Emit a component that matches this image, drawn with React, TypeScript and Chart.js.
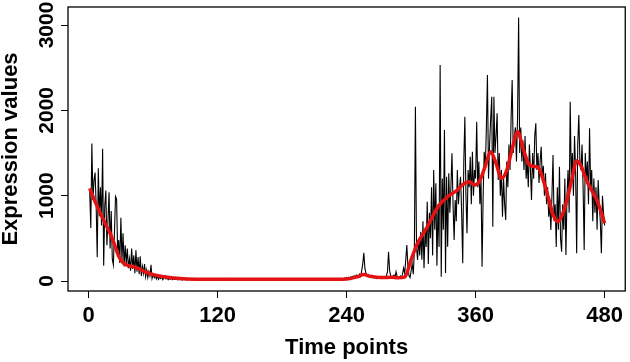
import React, { useEffect, useRef } from "react";
import { Chart, registerables } from "chart.js";

Chart.register(...registerables);

// Black raw series: expression value at time points 1..480
const expressionValues: number[] = [
  1050, 620, 1610, 950, 1180, 1270, 880, 280, 1320, 760, 1100, 650, 1550, 180, 880, 1060, 420, 720, 1040, 380,
  820, 260, 190, 560, 990, 960, 320, 480, 210, 740, 240, 560, 170, 420, 200, 380, 150, 260, 120, 380,
  140, 300, 90, 360, 110, 280, 80, 290, 60, 170, 90, 200, 50, 130, 40, 110, 60, 190, 30, 80,
  40, 70, 25, 60, 20, 45, 30, 55, 15, 35, 60, 25, 40, 15, 30, 20, 35, 15, 25, 20,
  18, 25, 12, 30, 15, 22, 10, 28, 16, 20, 12, 26, 14, 19, 24, 11, 17, 29, 13, 21,
  15, 23, 10, 18, 27, 12, 20, 14, 25, 16, 11, 22, 18, 13, 26, 15, 19, 12, 24, 17,
  14, 21, 10, 19, 25, 13, 17, 22, 11, 20, 16, 28, 12, 18, 23, 14, 19, 10, 25, 15,
  20, 13, 24, 16, 11, 22, 18, 14, 27, 12, 19, 15, 23, 10, 21, 17, 13, 26, 16, 20,
  12, 24, 15, 19, 11, 22, 17, 14, 25, 13, 20, 16, 10, 23, 18, 15, 21, 12, 27, 14,
  19, 16, 22, 11, 25, 14, 18, 20, 13, 24, 15, 21, 12, 17, 26, 14, 19, 23, 11, 20,
  16, 22, 13, 18, 25, 12, 20, 15, 24, 17, 11, 21, 19, 14, 26, 16, 12, 23, 18, 15,
  20, 13, 25, 17, 22, 14, 19, 28, 15, 21, 12, 24, 18, 16, 30, 20, 25, 35, 22, 40,
  30, 45, 35, 50, 40, 55, 60, 45, 70, 50, 60, 80, 55, 120, 200, 330, 150, 90, 60, 75,
  50, 45, 60, 40, 55, 35, 45, 30, 50, 40, 35, 45, 30, 40, 50, 35, 60, 110, 344, 120,
  60, 45, 55, 70, 40, 109, 50, 35, 45, 60, 40, 80, 150, 90, 250, 422, 180, 60, 40, 120,
  200, 80, 350, 2043, 400, 246, 500, 300, 578, 250, 700, 150, 600, 400, 930, 200, 800, 500, 1100, 300,
  1300, 600, 1145, 180, 900, 400, 2531, 50, 1200, 600, 1770, 94, 1222, 402, 1262, 800, 1100, 1496, 900, 480,
  949, 700, 1300, 900, 1100, 1222, 800, 207, 1400, 1925, 1000, 559, 1300, 1100, 1457, 900, 1515, 1000, 1300, 1200,
  1867, 1100, 1400, 900, 1200, 168, 1000, 1515, 1300, 1800, 2414, 1200, 1600, 1900, 2160, 636, 2160, 1500, 1700, 1965,
  1184, 1500, 1000, 1300, 754, 1200, 900, 715, 1400, 1100, 1600, 1300, 1900, 2356, 1500, 1700, 1800, 1400, 1900, 3087,
  1500, 1800, 1400, 1650, 1300, 1700, 1200, 1400, 1100, 1600, 1300, 949, 1500, 1200, 1700, 1848, 1300, 1500, 1150, 1400,
  1574, 1200, 1350, 1000, 1262, 900, 1100, 754, 900, 598, 1000, 1477, 700, 900, 400, 1100, 600, 1340, 500, 344,
  900, 600, 1200, 305, 1000, 1300, 800, 2101, 1200, 1500, 1000, 1700, 1300, 325, 1600, 1945, 1400, 1300, 1600, 1100,
  363, 1500, 1200, 1400, 900, 1789, 1100, 1300, 700, 1200, 800, 1100, 600, 1184, 900, 700, 325, 1000, 800, 650,
];

// Red smooth trend (time point, value)
const trendTime: number[] = [
  1, 6, 11, 16, 20, 24, 28, 32, 37, 44, 52, 60, 70, 85, 100, 130, 160, 190, 220, 240,
  250, 256, 262, 272, 282, 288, 294, 300, 306, 315, 325, 334, 343, 348, 354, 359, 364, 369, 374, 379,
  384, 389, 394, 399, 404, 409, 413, 418, 423, 428, 432, 436, 440, 445, 450, 454, 458, 463, 468, 473, 477, 480,
];
const trendValues: number[] = [
  1086, 930, 790, 660, 560, 430, 290, 215, 180, 160, 110, 75, 50, 30, 22, 20, 20, 20, 20, 25,
  50, 75, 55, 40, 45, 38, 45, 250, 442, 636, 871, 988, 1066, 1130, 1164, 1125, 1180, 1350, 1515, 1380,
  1203, 1300, 1550, 1750, 1560, 1379, 1345, 1335, 1180, 960, 780, 695, 760, 949, 1220, 1410, 1350, 1184, 1060, 940, 800, 676,
];

const xTicks: number[] = [0, 120, 240, 360, 480];
const yTicks: number[] = [0, 1000, 2000, 3000];
const xTickLabels: string[] = ["0", "120", "240", "360", "480"];
const yTickLabels: string[] = ["0", "1000", "2000", "3000"];
const xTitle = "Time points";
const yTitle = "Expression values";

const FONT = "'Liberation Sans', Arial, Helvetica, sans-serif";

export default function App() {
  const ref = useRef<HTMLCanvasElement | null>(null);

  useEffect(() => {
    document.body.style.margin = "0";
    const canvas = ref.current;
    if (!canvas) return;

    const rawData = expressionValues.map((v, i) => ({ x: i + 1, y: v }));
    const trendData = trendTime.map((t, i) => ({ x: t, y: trendValues[i] }));

    const boxPlugin = {
      id: "rbox",
      afterDraw(chart: any) {
        const { ctx, chartArea } = chart;
        ctx.save();
        ctx.strokeStyle = "#000";
        ctx.lineWidth = 1.3;
        ctx.strokeRect(chartArea.left, chartArea.top, chartArea.right - chartArea.left, chartArea.bottom - chartArea.top);
        // rotated y tick labels (R style)
        const ys = chart.scales.y;
        ctx.fillStyle = "#000";
        ctx.font = `bold 21px ${FONT}`;
        ctx.textAlign = "center";
        ctx.textBaseline = "alphabetic";
        yTicks.forEach((v, i) => {
          const py = ys.getPixelForValue(v);
          ctx.save();
          ctx.translate(53, py);
          ctx.rotate(-Math.PI / 2);
          ctx.fillText(yTickLabels[i], 0, 0);
          ctx.restore();
        });
        ctx.restore();
      },
    };

    const chart = new Chart(canvas, {
      type: "line",
      data: {
        datasets: [
          {
            data: rawData,
            borderColor: "#000",
            borderWidth: 1.1,
            pointRadius: 0,
            tension: 0,
            fill: false,
            order: 1,
          },
          {
            data: trendData,
            borderColor: "rgb(228,18,18)",
            borderWidth: 3.5,
            pointRadius: 0,
            tension: 0.4,
            cubicInterpolationMode: "monotone",
            fill: false,
            order: 0,
          },
        ],
      },
      options: {
        animation: false,
        responsive: false,
        devicePixelRatio: 1,
        layout: { padding: { top: 7, right: 1, left: 0, bottom: 0 } },
        plugins: { legend: { display: false }, tooltip: { enabled: false } },
        scales: {
          x: {
            type: "linear",
            min: -19.2,
            max: 499.2,
            afterBuildTicks: (s: any) => {
              s.ticks = xTicks.map((v) => ({ value: v }));
            },
            afterFit: (s: any) => {
              s.height = 71;
            },
            ticks: {
              autoSkip: false,
              maxRotation: 0,
              minRotation: 0,
              padding: 7,
              color: "#000",
              font: { family: FONT, size: 22, weight: "bold", lineHeight: 1 },
              callback: (v: any) => {
                const i = xTicks.indexOf(Number(v));
                return i >= 0 ? xTickLabels[i] : "";
              },
            },
            grid: {
              drawOnChartArea: false,
              drawTicks: true,
              tickLength: 7,
              color: "#000",
              lineWidth: 1,
            },
            border: { display: false },
            title: {
              display: true,
              text: xTitle,
              color: "#000",
              font: { family: FONT, size: 22, weight: "bold", lineHeight: 1 },
              padding: { top: 0, bottom: 3 },
            },
          },
          y: {
            type: "linear",
            min: -117,
            max: 3211,
            afterBuildTicks: (s: any) => {
              s.ticks = yTicks.map((v) => ({ value: v }));
            },
            afterFit: (s: any) => {
              s.width = 68;
            },
            ticks: { display: false },
            grid: {
              drawOnChartArea: false,
              drawTicks: true,
              tickLength: 7,
              color: "#000",
              lineWidth: 1,
            },
            border: { display: false },
            title: {
              display: true,
              text: yTitle,
              color: "#000",
              font: { family: FONT, size: 22, weight: "bold", lineHeight: 1 },
              padding: { top: 0, bottom: 0 },
            },
          },
        },
      },
      plugins: [boxPlugin],
    });

    return () => chart.destroy();
  }, []);

  return (
    <div style={{ width: 630, height: 362 }}>
      <canvas ref={ref} width={630} height={362} />
    </div>
  );
}
